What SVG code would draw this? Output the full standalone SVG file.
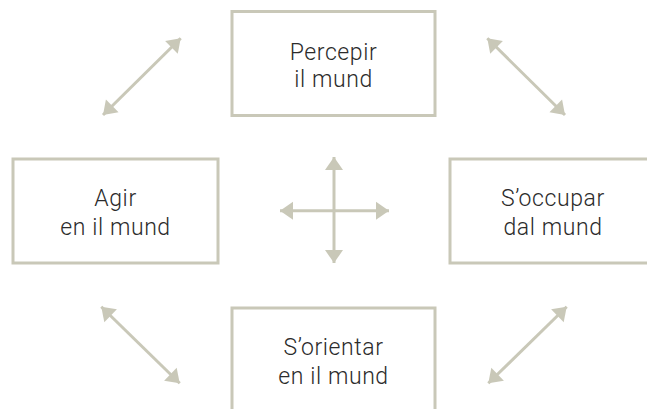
<svg xmlns="http://www.w3.org/2000/svg" width="647" height="409" viewBox="0 0 647 409">
<style>
.box{fill:#fff;stroke:#c9c8b8;stroke-width:3}
.lbl{font-family:Roboto,"Open Sans","Liberation Sans",sans-serif;font-weight:300;font-size:23px;letter-spacing:0.6px;fill:#2b2b2b;text-anchor:middle}
.con{stroke:#c9c8b8;stroke-width:3;fill:none;marker-start:url(#ah);marker-end:url(#ah)}
</style>
<defs>
<marker id="ah" markerUnits="userSpaceOnUse" viewBox="-14 -10 15 20" refX="0" refY="0" markerWidth="15" markerHeight="20" orient="auto-start-reverse">
<path d="M0,0 L-13,-9 L-13,9 Z" fill="#c9c8b8"/>
</marker>
</defs>
<rect width="647" height="409" fill="#fff"/>
<g id="connectors">
<line class="con" x1="103" y1="115" x2="180.7" y2="38.3"/>
<line class="con" x1="487.3" y1="38.3" x2="565" y2="115"/>
<line class="con" x1="101.3" y1="306.7" x2="179.7" y2="383.3"/>
<line class="con" x1="566.7" y1="306.7" x2="488.3" y2="383.3"/>
<line class="con" x1="334" y1="157" x2="334" y2="263"/>
<line class="con" x1="280" y1="210.7" x2="389" y2="210.7"/>
</g>
<g id="percepir">
<rect class="box" x="232" y="11.5" width="203" height="104"/>
<text class="lbl" x="333.5" y="60">Percepir</text>
<text class="lbl" x="333.5" y="87">il mund</text>
</g>
<g id="agir">
<rect class="box" x="13" y="159" width="205" height="104"/>
<text class="lbl" x="115.5" y="206">Agir</text>
<text class="lbl" x="115.5" y="235">en il mund</text>
</g>
<g id="occupar">
<rect class="box" x="450" y="159" width="206" height="104"/>
<text class="lbl" x="553" y="206">S’occupar</text>
<text class="lbl" x="553" y="235">dal mund</text>
</g>
<g id="orientar">
<rect class="box" x="232" y="308" width="203" height="110"/>
<text class="lbl" x="333.5" y="355">S’orientar</text>
<text class="lbl" x="333.5" y="384">en il mund</text>
</g>
</svg>
